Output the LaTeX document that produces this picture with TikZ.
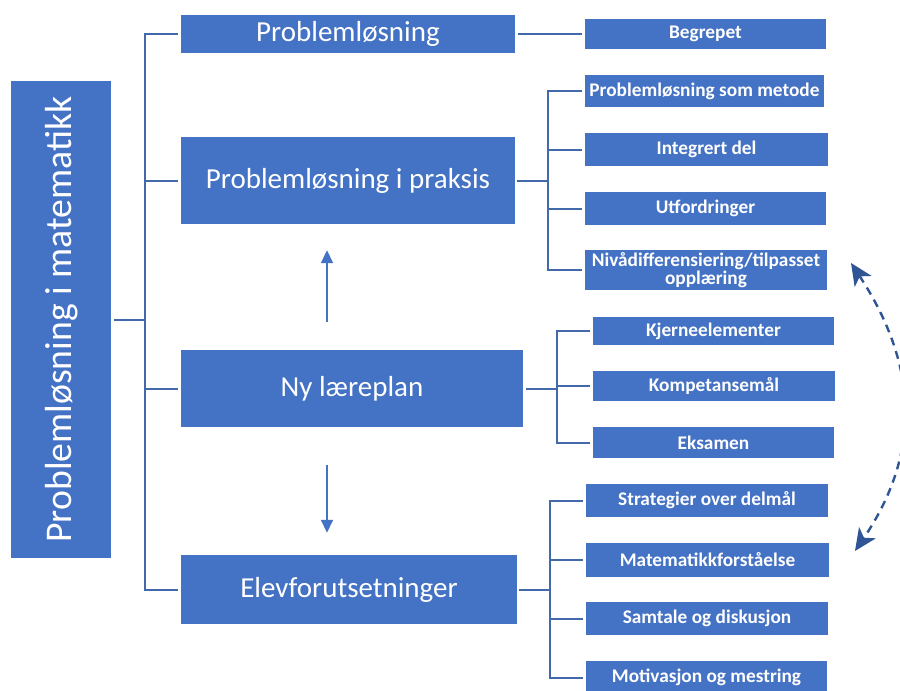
\documentclass[tikz,border=0pt]{standalone}
\usepackage{fontspec}
\setmainfont{Carlito}
\usetikzlibrary{arrows.meta,calc}
\definecolor{boxblue}{RGB}{68,114,196}
\definecolor{lineblue}{RGB}{66,106,170}
\definecolor{darkblue}{RGB}{47,85,151}
\tikzset{
  bigbox/.style={fill=boxblue, draw=none, text=white, inner sep=0pt, font=\fontsize{29}{32}\selectfont},
  leftbox/.style={fill=boxblue, draw=none, inner sep=0pt},
  smallbox/.style={fill=boxblue, draw=none, text=white, inner sep=0pt, align=center, font=\bfseries\fontsize{19.3}{19.3}\selectfont},
  conn/.style={draw=lineblue, line width=2pt},
  varrow/.style={draw=boxblue, line width=1.6pt, -{Triangle[width=12pt,length=13pt]}},
  cyc/.style={draw=darkblue, line width=2.4pt, dash pattern=on 8pt off 6pt, {Stealth[width=20pt,length=22pt,inset=6pt]}-{Stealth[width=20pt,length=22pt,inset=6pt]}}
}
\begin{document}
\begin{tikzpicture}[x=1pt,y=1pt]
\useasboundingbox (0,0) rectangle (900,-691);
\clip (0,0) rectangle (900,-691);
\fill[white] (0,0) rectangle (900,-691);

% left box
\node[leftbox, minimum width=100pt, minimum height=477pt] (left) at (61,-319.5) {};
\node[text=white, rotate=90, font=\fontsize{37.7}{40}\selectfont, inner sep=0pt] (lefttext) at ([xshift=1pt]left.center) {Problemløsning i matematikk};

% main boxes
\node[bigbox, minimum width=334pt, minimum height=38pt] (p1) at (348,-34) {Problemløsning};
\node[bigbox, minimum width=334pt, minimum height=87pt] (p2) at (348,-180.5) {Problemløsning i praksis};
\node[bigbox, minimum width=342pt, minimum height=77pt] (p3) at (352,-388.5) {Ny læreplan};
\node[bigbox, minimum width=336pt, minimum height=69pt] (p4) at (349,-589.5) {Elevforutsetninger};

% small boxes
\node[smallbox, minimum width=241pt, minimum height=30pt] (b1) at (705.5,-34) {Begrepet};
\node[smallbox, minimum width=239pt, minimum height=32pt] (s1) at (704.5,-91) {Problemløsning som metode};
\node[smallbox, minimum width=243pt, minimum height=33pt] (s2) at (706.5,-149.5) {Integrert del};
\node[smallbox, minimum width=241pt, minimum height=33pt] (s3) at (705.5,-208.5) {Utfordringer};
\node[smallbox, minimum width=242pt, minimum height=40pt] (s4) at (706,-270) {Nivådifferensiering/tilpasset\\[-1.5pt]opplæring};
\node[smallbox, minimum width=241pt, minimum height=28pt] (k1) at (713.5,-331) {Kjerneelementer};
\node[smallbox, minimum width=242pt, minimum height=30pt] (k2) at (714,-386) {Kompetansemål};
\node[smallbox, minimum width=241pt, minimum height=31pt] (k3) at (713.5,-442.5) {Eksamen};
\node[smallbox, minimum width=242pt, minimum height=33pt] (e1) at (707,-500.5) {Strategier over delmål};
\node[smallbox, minimum width=243pt, minimum height=34pt] (e2) at (707.5,-560) {Matematikkforståelse};
\node[smallbox, minimum width=242pt, minimum height=33pt] (e3) at (707,-618.5) {Samtale og diskusjon};
\node[smallbox, minimum width=241pt, minimum height=33pt] (e4) at (706.5,-677.5) {Motivasjon og mestring};

% junctions
\coordinate (jL) at (145,-319.5);
\coordinate (jP) at (548,-180.5);
\coordinate (jN) at (557,-388.5);
\coordinate (jE) at (550,-589.5);
\coordinate (ax) at (327,0);

% left bracket
\draw[conn, shorten <=3pt] (left.east) -- (jL);
\foreach \t in {p1,p2,p3,p4} \draw[conn, shorten >=3pt] (jL) |- (\t.west);

% Begrepet
\draw[conn, shorten <=3pt, shorten >=3pt] (p1.east) -- (b1.west);

% praksis bracket
\draw[conn, shorten <=2pt] (p2.east) -- (jP);
\foreach \t in {s1,s2,s3,s4} \draw[conn, shorten >=3pt] (jP) |- (\t.west);

% læreplan bracket
\draw[conn, shorten <=3pt] (p3.east) -- (jN);
\foreach \t in {k1,k2,k3} \draw[conn, shorten >=3pt] (jN) |- (\t.west);

% elev bracket
\draw[conn, shorten <=2pt] (p4.east) -- (jE);
\foreach \t in {e1,e2,e3,e4} \draw[conn, shorten >=3pt] (jE) |- (\t.west);

% vertical arrows
\draw[varrow, shorten <=28pt, shorten >=26pt] (p3.north -| ax) -- (p2.south -| ax);
\draw[varrow, shorten <=38pt, shorten >=22pt] (p3.south -| ax) -- (p4.north -| ax);

% dashed cycle arc
\coordinate (ct) at (851,-263);
\coordinate (cb) at (855,-551);
\draw[cyc] (ct) .. controls (920,-368) and (920,-455) .. (cb);
\end{tikzpicture}
\end{document}
